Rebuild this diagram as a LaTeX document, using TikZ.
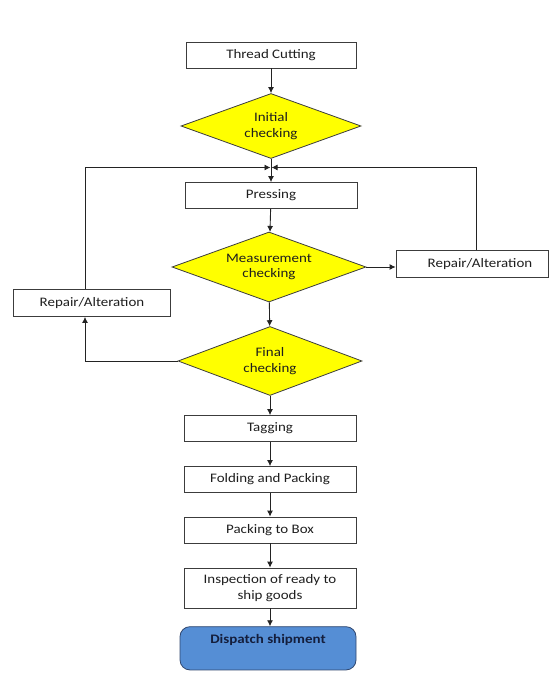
\documentclass[tikz,border=0pt]{standalone}
\usepackage{fontspec}
\setmainfont{Carlito}[FakeStretch=1.15]
\usepackage{tikz}
\usetikzlibrary{shapes.geometric}
\usetikzlibrary{arrows.meta}
\definecolor{boxline}{RGB}{60,60,60}
\definecolor{arrowline}{RGB}{35,35,35}
\definecolor{checkyellow}{RGB}{255,255,0}
\definecolor{dispatchblue}{RGB}{85,142,213}
\definecolor{dispatchline}{RGB}{47,70,110}
\definecolor{dispatchtext}{RGB}{20,30,60}
\definecolor{textgray}{RGB}{30,30,30}
\tikzset{
    common/.style={draw=boxline, line width=0.8pt, text=textgray, align=center, inner sep=0pt, font=\fontsize{13}{15.5}\selectfont},
    stepbox/.style={common, rectangle, minimum width=172pt, minimum height=26pt},
    repairbox/.style={common, rectangle, minimum width=155pt, minimum height=27pt},
    check/.style={common, diamond, fill=checkyellow, aspect=2.7, minimum width=#1, minimum height=68pt},
    dispatch/.style={common, rectangle, rounded corners=10pt, draw=dispatchline, fill=dispatchblue, text=dispatchtext, minimum width=176pt, text height=16.6pt, text depth=26.7pt, font=\fontsize{13}{15.5}\selectfont\bfseries},
    flow/.style={draw=arrowline, line width=0.9pt, -{Latex[length=6pt,width=6pt]}}
}
\begin{document}
\begin{tikzpicture}[x=1pt, y=-1pt]
    \useasboundingbox (0,0) rectangle (557,692);
    \node[stepbox, minimum width=170pt] (thread) at (271,55) {Thread Cutting};
    \node[check=180pt, minimum height=65pt] (initial) at (271,126) {Initial\\checking};
    \coordinate (merge) at (271,167.5);
    \node[stepbox] (pressing) at (271,195.5) {Pressing};
    \node[check=194pt, minimum height=70pt] (measure) at (269,267) {Measurement\\checking};
    \node[repairbox, minimum width=152pt] (repair-r) at (472,264) {\hspace{16pt}Repair/Alteration};
    \node[repairbox, minimum width=157pt] (repair-l) at (92,303) {Repair/Alteration};
    \node[check=184pt, minimum height=69pt] (final) at (270,361) {Final\\checking};
    \node[stepbox] (tagging) at (270,428.5) {Tagging};
    \node[stepbox] (folding) at (270,479.5) {Folding and Packing};
    \node[stepbox] (box) at (270,530) {Packing to Box};
    \node[stepbox, minimum height=40pt] (inspection) at (270,588) {Inspection of ready to\\ship goods};
    \node[dispatch] (dispatch) at (268,648.3) {Dispatch shipment};

    \draw[flow] (thread) -- (initial);
    \draw[flow] (initial) -- (pressing);
    \draw[flow] ([xshift=-7pt]repair-l.north) |- ([xshift=-0.5pt]merge);
    \draw[flow] ([xshift=4pt]repair-r.north) |- ([xshift=0.5pt]merge);
    \draw[flow] (pressing) -- (measure);
    \draw[flow] (measure.east) -- (measure.east -| repair-r.west);
    \draw[flow] (measure) -- (final);
    \draw[flow] (final.west) -| ([xshift=-7pt]repair-l.south);
    \draw[flow] (final) -- (tagging);
    \draw[flow] (tagging) -- (folding);
    \draw[flow] (folding) -- (box);
    \draw[flow] (box) -- (inspection);
    \draw[flow] (inspection) -- (inspection |- dispatch.north);
\end{tikzpicture}
\end{document}
